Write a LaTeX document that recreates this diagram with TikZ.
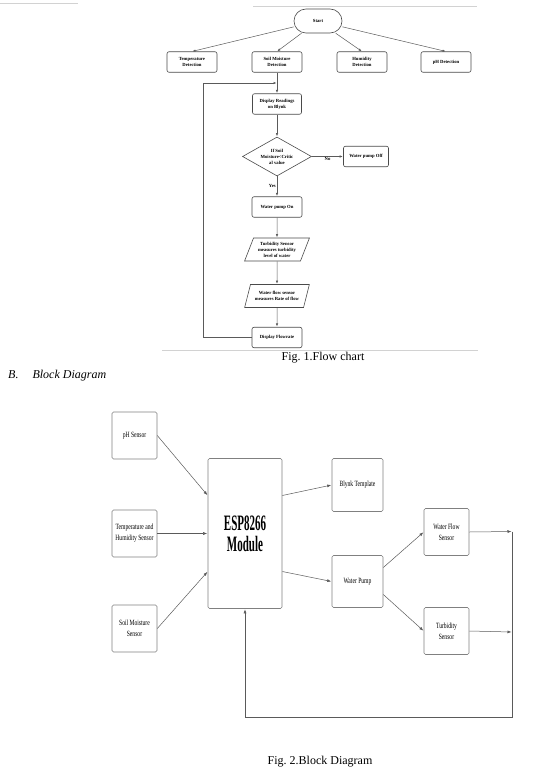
\documentclass[tikz,border=0pt]{standalone}
\usepackage{fontspec}
\setmainfont{Liberation Serif}
\newfontfamily\condfont[FakeStretch=0.7]{Liberation Serif}
\newfontfamily\espfont[FakeStretch=0.5]{Liberation Serif}
\usepackage{xcolor}
\usepackage{tikz}
\usetikzlibrary{positioning}
\usetikzlibrary{shapes.geometric}
\usetikzlibrary{arrows.meta}
\definecolor{boxgray}{HTML}{4A4A4A}
\definecolor{linegray}{HTML}{5A5A5A}
\definecolor{pagegray}{HTML}{D2D2D2}

\begin{document}
\begin{tikzpicture}[x=1pt, y=-1pt, shorten >=0.5pt, on grid, auto,
      >={Latex[length=3pt,width=2.4pt]},
      every edge/.style={draw=linegray, line width=0.5pt},
      fl/.style={font=\bfseries\fontsize{4.7}{5.9}\selectfont, align=center, inner sep=1pt},
      flbox/.style={fl, draw=boxgray, line width=0.6pt, rounded corners=2pt, minimum width=50pt, minimum height=20.5pt},
      flterm/.style={fl, draw=boxgray, line width=0.6pt, rounded corners=12pt, minimum width=48pt, minimum height=24pt},
      flio/.style={fl, draw=boxgray, line width=0.6pt, trapezium, trapezium left angle=66, trapezium right angle=114, trapezium stretches=true, minimum width=65pt, minimum height=23pt},
      fldec/.style={fl, draw=boxgray, line width=0.6pt, diamond, aspect=1.77, inner sep=0pt, minimum width=69pt, minimum height=39pt},
      bl/.style={font=\condfont\fontsize{8}{11}\selectfont, align=center, draw=gray, line width=0.6pt, rounded corners=1.5pt, minimum width=45pt, minimum height=47pt},
      lbl/.style={font=\bfseries\fontsize{4.7}{5.9}\selectfont, fill=white, inner sep=1pt}]

      \useasboundingbox (0,0) rectangle (537,776);

      % page rules
      \draw[pagegray, line width=0.5pt] (0,3) -- (78,3);
      \draw[pagegray, line width=0.7pt] (253,6) -- (477,6);
      \draw[pagegray, line width=0.8pt] (162,350) -- (478,350);

      % flow chart
      \node[flterm] (start) at (318,21) {Start};
      \node[flbox] (temp) [below left=41pt and 126pt of start] {Temperature\\Detection};
      \node[flbox] (soil) [below left=41pt and 41pt of start] {Soil Moisture\\Detection};
      \node[flbox] (humid) [below right=41pt and 44pt of start] {Humidity\\Detection};
      \node[flbox] (phdet) [below right=41pt and 128pt of start] {pH Detection};

      \node[flbox, minimum width=49pt] (disp) [below=42pt of soil] {Display Readings\\on Blynk};
      \node[fldec] (dec) [below=52.5pt of disp] {If Soil\\Moisture<Critic\\al value};
      \node[flbox, minimum width=45pt] (off) [right=89pt of dec] {Water pump Off};
      \node[flbox] (on) [below=50.5pt of dec] {Water pump On};
      \node[flio] (turb) [below=42.5pt of on] {Turbidity Sensor\\measures turbidity\\level of water};
      \node[flio] (flow) [below=46.5pt of turb] {Water flow sensor\\measures Rate of flow};
      \node[flbox] (dflow) [below=41.5pt of flow] {Display Flowrate};
      \coordinate (loop) at (203,83);

      \node[font=\fontsize{12}{14}\selectfont] (cap1) at (323,357.5) {Fig.\ 1.Flow chart};
      \node[font=\itshape\fontsize{12}{14}\selectfont, anchor=west, inner sep=0pt] (secb) at (8,376) {B.\hspace{14pt}Block Diagram};

      \path[->]
        (start) edge [] node[] {} (temp.north)
        (start) edge [] node[] {} (soil.north)
        (start) edge [] node[] {} (humid.north)
        (start) edge [] node[] {} (phdet.north)
        (soil) edge [] node[] {} (disp)
        (disp) edge [] node[] {} (dec)
        (dec) edge [] node[lbl, midway, swap] {No} (off)
        (dec) edge [] node[lbl, midway, swap] {Yes} (on)
        (on) edge [] node[] {} (turb)
        (turb) edge [] node[] {} (flow)
        (flow) edge [] node[] {} (dflow);
      \draw[->, linegray, line width=0.5pt] (dflow.west) -| (loop) -- (loop -| soil);

      % block diagram
      \node[bl] (ph) at (134.5,435.5) {pH Sensor};
      \node[bl] (th) [below=98pt of ph] {Temperature and\\Humidity Sensor};
      \node[bl] (sm) [below=95pt of th] {Soil Moisture\\Sensor};
      \node[bl, minimum width=74pt, minimum height=150pt, font=\espfont\bfseries\fontsize{22}{21}\selectfont] (esp) [right=110.5pt of th] {ESP8266\\Module};
      \node[bl, minimum width=51pt, minimum height=53pt] (blynk) [above right=48.5pt and 112.5pt of esp] {Blynk Template};
      \node[bl, minimum width=51pt, minimum height=52pt] (pump) [below right=48pt and 112.5pt of esp] {Water Pump};
      \node[bl] (wflow) [above right=49.5pt and 89pt of pump] {Water Flow\\Sensor};
      \node[bl] (turbs) [below right=49.5pt and 89pt of pump] {Turbidity\\Sensor};
      \coordinate (rail) at (512,531.5);
      \coordinate (railb) at (512,632);
      \coordinate (back) at (512,717);

      \node[font=\fontsize{12}{14}\selectfont] (cap2) at (320,762) {Fig.\ 2.Block Diagram};

      \path[->, >={Latex[length=4pt,width=3pt]}]
        (ph.east) edge [] node[] {} ([yshift=38pt]esp.west)
        (th) edge [] node[] {} (esp)
        (sm.east) edge [] node[] {} ([yshift=-38pt]esp.west)
        ([yshift=38pt]esp.east) edge [] node[] {} (blynk.west)
        ([yshift=-38pt]esp.east) edge [] node[] {} (pump.west)
        ([yshift=14pt]pump.east) edge [] node[] {} (wflow.west)
        ([yshift=-13pt]pump.east) edge [] node[] {} (turbs.west)
        (wflow.east) edge [] node[] {} (rail)
        (turbs.east) edge [] node[] {} (railb);
      \draw[->, linegray, line width=0.5pt, >={Latex[length=4pt,width=3pt]}] (rail) -- (back) -| (esp.south);

    \end{tikzpicture}
\end{document}
